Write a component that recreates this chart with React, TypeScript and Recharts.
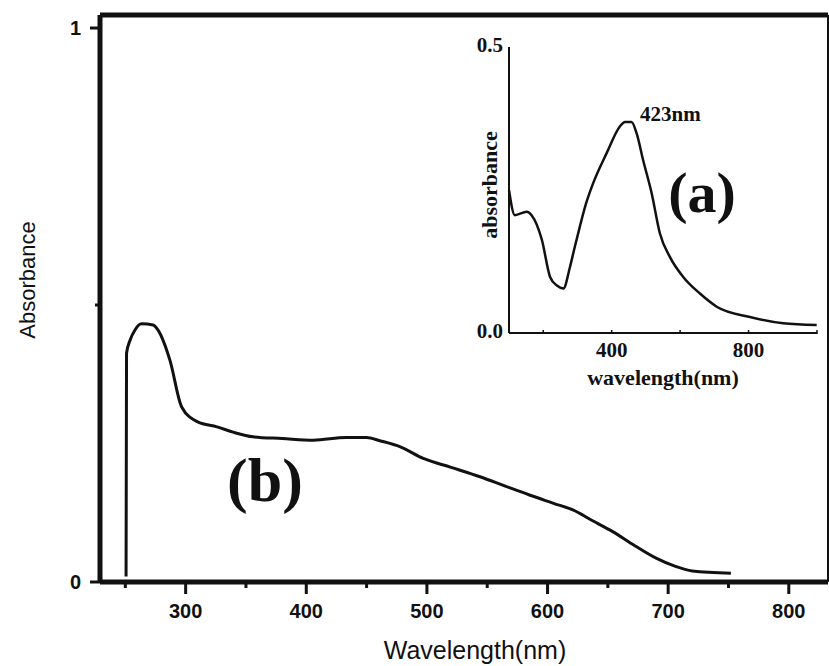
import { LineChart, Line, XAxis, YAxis, ReferenceLine } from "recharts";

// curve (b): main panel
const bWavelength = [250.6, 251, 254, 258, 263.5, 273, 277, 287, 296.7, 310, 326, 340, 356, 380, 406, 433, 450, 461, 478, 497, 520, 544, 565, 585, 605, 621, 637, 654, 672, 690, 705, 720, 752];
const bAbsorbance = [0.01, 0.413, 0.437, 0.455, 0.466, 0.464, 0.455, 0.4, 0.316, 0.289, 0.28, 0.27, 0.262, 0.259, 0.256, 0.261, 0.261, 0.255, 0.244, 0.223, 0.207, 0.19, 0.173, 0.157, 0.142, 0.13, 0.111, 0.091, 0.066, 0.043, 0.029, 0.02, 0.016];

// curve (a): inset
const aWavelength = [100, 117, 152, 166, 196, 220, 240, 259, 278, 292, 307, 325, 346, 385, 424, 439, 458, 473, 492, 517, 541, 570, 609, 658, 707, 804, 901, 999];
const aAbsorbance = [0.25, 0.206, 0.212, 0.206, 0.163, 0.098, 0.083, 0.078, 0.115, 0.15, 0.186, 0.226, 0.262, 0.314, 0.361, 0.369, 0.369, 0.349, 0.302, 0.244, 0.174, 0.133, 0.098, 0.069, 0.046, 0.028, 0.017, 0.014];

const mainXTicks = [250, 300, 350, 400, 450, 500, 550, 600, 650, 700, 750, 800];
const mainXLabels = [300, 400, 500, 600, 700, 800];
const mainYTicks = [0, 0.5, 1];
const mainYLabels: Record<number, string> = { 0: "0", 1: "1" };

const insetXTicks = [200, 400, 600, 800, 1000];
const insetXLabels = [400, 800];
const insetYTicks = [0, 0.5];
const insetYLabels: Record<number, string> = { 0: "0.0", 0.5: "0.5" };

const X_MIN = 229;
const X_MAX = 832.5;
const Y_MAX = 1.0235;

const SANS = "'Liberation Sans', Arial, sans-serif";
const SERIF = "'Liberation Serif', 'Times New Roman', serif";
const INK = "#111";

const mainData = bWavelength.map((wl, i) => ({ wl, abs: bAbsorbance[i] }));
const insetData = aWavelength.map((wl, i) => ({ wl, abs: aAbsorbance[i] }));

function MainXTick({ x, y, payload }: any) {
  const major = mainXLabels.includes(payload.value);
  return (
    <g>
      <line x1={x} x2={x} y1={y} y2={y + (major ? 12 : 6)} stroke={INK} strokeWidth={3} />
      {major && (
        <text x={x} y={y + 36} textAnchor="middle" fontFamily={SANS} fontWeight="bold" fontSize={20} fill={INK}>
          {payload.value}
        </text>
      )}
    </g>
  );
}

function MainYTick({ x, y, payload }: any) {
  const label = mainYLabels[payload.value];
  return (
    <g>
      <line x1={x - (label ? 10 : 5)} x2={x} y1={y} y2={y} stroke={INK} strokeWidth={3} />
      {label && (
        <text x={x - 19} y={y + 7} textAnchor="end" fontFamily={SANS} fontWeight="bold" fontSize={20} fill={INK}>
          {label}
        </text>
      )}
    </g>
  );
}

function InsetXTick({ x, y, payload }: any) {
  const labelled = insetXLabels.includes(payload.value);
  return (
    <g>
      <line x1={x} x2={x} y1={y - 3} y2={y + 1} stroke={INK} strokeWidth={1.5} />
      {labelled && (
        <text x={x} y={y + 24} textAnchor="middle" fontFamily={SERIF} fontWeight="bold" fontSize={21} fill={INK}>
          {payload.value}
        </text>
      )}
    </g>
  );
}

function InsetYTick({ x, y, payload }: any) {
  return (
    <text x={x - 6} y={y + 5} textAnchor="end" fontFamily={SERIF} fontWeight="bold" fontSize={21} fill={INK}>
      {insetYLabels[payload.value]}
    </text>
  );
}

function Note({ x, y, size, family, bold, rotate, anchor = "center", children }: any) {
  const shift = anchor === "left" ? "translate(0,-50%)" : "translate(-50%,-50%)";
  return (
    <div
      style={{
        position: "absolute",
        left: x,
        top: y,
        transform: `${shift}${rotate ? ` rotate(${rotate}deg)` : ""}`,
        fontFamily: family,
        fontSize: size,
        fontWeight: bold ? "bold" : "normal",
        lineHeight: 1,
        whiteSpace: "nowrap",
        color: INK,
      }}
    >
      {children}
    </div>
  );
}

export default function App() {
  return (
    <div style={{ position: "absolute", left: 0, top: 0, width: 829, height: 666, background: "#fff", overflow: "hidden" }}>
      <LineChart width={829} height={666} data={mainData} margin={{ top: 15, right: 1, bottom: 0, left: 0 }}>
        <XAxis
          dataKey="wl"
          type="number"
          domain={[X_MIN, X_MAX]}
          allowDataOverflow
          ticks={mainXTicks}
          interval={0}
          height={84}
          tickSize={0}
          tickMargin={0}
          tickLine={false}
          axisLine={{ stroke: INK, strokeWidth: 5 }}
          tick={<MainXTick />}
        />
        <YAxis
          type="number"
          domain={[0, Y_MAX]}
          allowDataOverflow
          ticks={mainYTicks}
          interval={0}
          width={100}
          tickSize={0}
          tickMargin={0}
          tickLine={false}
          axisLine={{ stroke: INK, strokeWidth: 5 }}
          tick={<MainYTick />}
        />
        <ReferenceLine y={Y_MAX} stroke={INK} strokeWidth={5} />
        <ReferenceLine x={X_MAX} stroke={INK} strokeWidth={2} />
        <Line type="monotone" dataKey="abs" stroke={INK} strokeWidth={3} dot={false} isAnimationActive={false} />
      </LineChart>

      <div style={{ position: "absolute", left: 440, top: 30 }}>
        <LineChart width={389} height={370} data={insetData} margin={{ top: 17, right: 12, bottom: 0, left: 0 }}>
          <XAxis
            dataKey="wl"
            type="number"
            domain={[100, 1000]}
            ticks={insetXTicks}
            interval={0}
            height={67}
            tickSize={0}
            tickMargin={0}
            tickLine={false}
            axisLine={{ stroke: INK, strokeWidth: 2 }}
            tick={<InsetXTick />}
          />
          <YAxis
            type="number"
            domain={[0, 0.5]}
            ticks={insetYTicks}
            interval={0}
            width={69}
            tickSize={0}
            tickMargin={0}
            tickLine={false}
            axisLine={{ stroke: INK, strokeWidth: 2 }}
            tick={<InsetYTick />}
          />
          <Line type="monotone" dataKey="abs" stroke={INK} strokeWidth={2.5} dot={false} isAnimationActive={false} />
        </LineChart>
      </div>

      <Note x={475} y={650} size={25} family={SANS}>Wavelength(nm)</Note>
      <Note x={28} y={280} size={22} family={SANS} rotate={-90}>Absorbance</Note>
      <Note x={265} y={480} size={62} family={SERIF} bold>(b)</Note>
      <Note x={702} y={193} size={58} family={SERIF} bold>(a)</Note>
      <Note x={640} y={114} size={21} family={SERIF} bold anchor="left">423nm</Note>
      <Note x={663} y={378} size={22} family={SERIF} bold>wavelength(nm)</Note>
      <Note x={490} y={185} size={22} family={SERIF} bold rotate={-90}>absorbance</Note>
    </div>
  );
}
